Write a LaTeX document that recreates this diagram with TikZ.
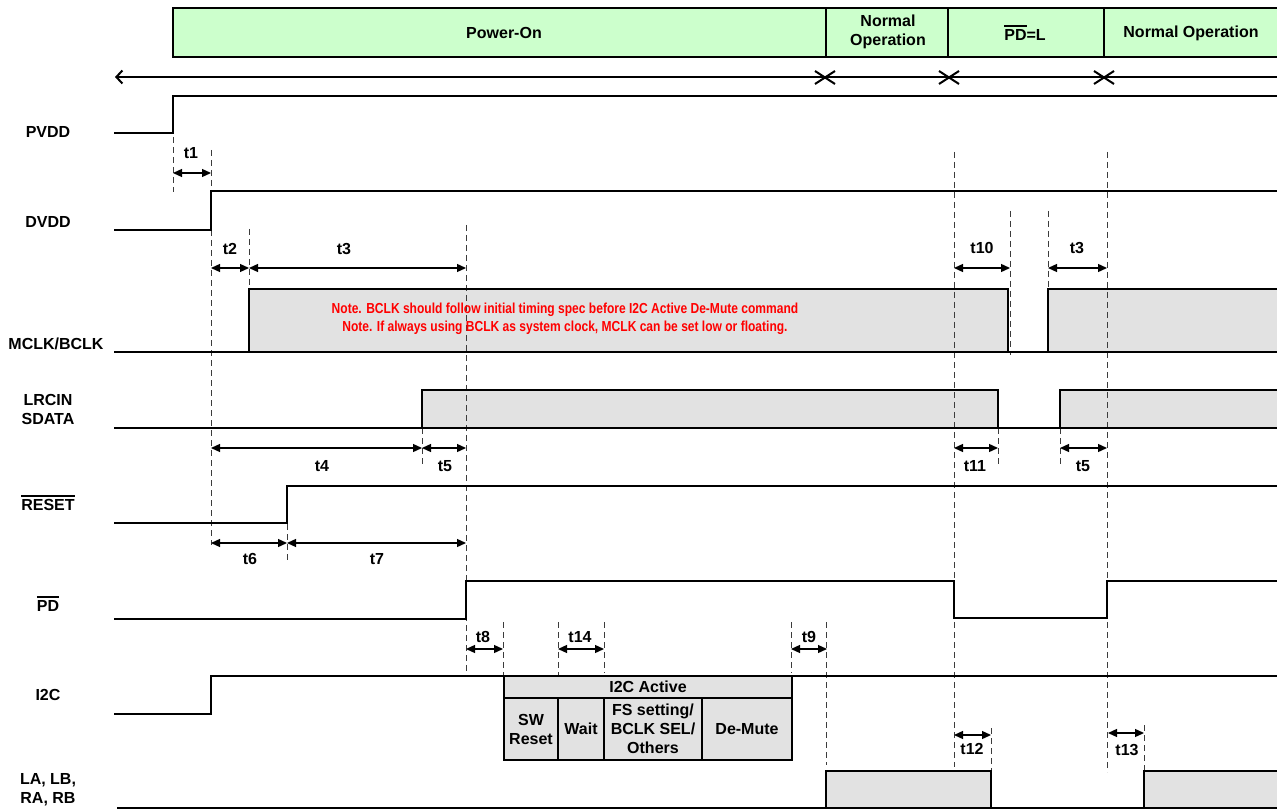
\documentclass[tikz,border=0pt]{standalone}
\usepackage{fontspec}
\setmainfont{Liberation Sans}
\usetikzlibrary{arrows.meta}
\definecolor{barg}{RGB}{204,255,204}
\definecolor{blkg}{RGB}{226,226,226}
\definecolor{guideg}{RGB}{60,60,60}
\newcommand\ovl[1]{\setbox0=\hbox{#1}\leavevmode\rlap{\rule[\dimexpr\ht0+3pt\relax]{\wd0}{1.5pt}}\box0}
\tikzset{
  sig/.style={line width=2.4pt, line join=miter, line cap=rect},
  guide/.style={dash pattern=on 6pt off 4pt, line width=1pt, guideg},
  dim/.style={{Triangle[length=9pt,width=8pt]}-{Triangle[length=9pt,width=8pt]}, line width=1.3pt},
  lbl/.style={font=\bfseries\fontsize{16}{19}\selectfont, align=center, inner sep=0pt},
  tl/.style={font=\bfseries\fontsize{16}{19}\selectfont, inner sep=0pt},
  bar/.style={font=\bfseries\fontsize{16}{19}\selectfont, align=center, inner sep=0pt},
  blk/.style={fill=blkg, draw=none},
  note/.style={font=\bfseries\fontsize{14.5}{16}\selectfont, text=red, inner sep=0pt},
  xm/.style={line width=2pt}
}
\begin{document}
\begin{tikzpicture}[x=1pt,y=-1pt]
\useasboundingbox (0,0) rectangle (1277,810);

% ---------- top phase bar ----------
\draw[line width=2.4pt, fill=barg] (173,8) rectangle (1290,57);
\foreach \xx in {826,948,1104} \draw[line width=2.4pt] (\xx,8) -- (\xx,57);
\node[bar] (pon) at (504,33) {Power-On};
\node[bar] (nop1) at (888,32) {Normal\\Operation};
\node[bar] (pdl) at (1025,33) {\ovl{PD}=L};
\node[bar] (nop2) at (1191,33) {Normal Operation};

% ---------- phase arrow line ----------
\coordinate (aL) at (115,77);
\coordinate (aR) at (1290,77);
\draw[line width=2pt, {Straight Barb[length=6pt,width=13pt,line width=2pt]}-] (aL) -- (aR);
\foreach \xx in {825,949,1104} {
  \draw[xm] (\xx-10,71) -- (\xx+10,84);
  \draw[xm] (\xx-10,84) -- (\xx+10,71);
}

% ---------- signal labels ----------
\node[lbl] (lpvdd) at (48,132) {PVDD};
\node[lbl] (ldvdd) at (48,222) {DVDD};
\node[lbl] (lmclk) at (56,344) {MCLK/BCLK};
\node[lbl] (llrc) at (48,409) {LRCIN\\SDATA};
\node[lbl] (lrst) at (48,503) {\ovl{RESET}};
\node[lbl] (lpd) at (48,604) {\ovl{PD}};
\node[lbl] (li2c) at (48,695) {I2C};
\node[lbl] (lla) at (48,790) {LA, LB,\\RA, RB};

% ---------- grey data fills ----------
\fill[blk] (249,289) rectangle (1008,352);
\fill[blk] (1048,289) rectangle (1290,352);
\fill[blk] (422,390) rectangle (998,428);
\fill[blk] (1060,390) rectangle (1290,428);
\fill[blk] (826,771) rectangle (991,808);
\fill[blk] (1144,771) rectangle (1290,808);

% ---------- guide lines ----------
\draw[guide] (173,137) -- (173,192);
\draw[guide] (211,150) -- (211,545);
\draw[guide] (249,229) -- (249,289);
\draw[guide] (466,225) -- (466,673);
\draw[guide] (954,152) -- (954,767);
\draw[guide] (1107,152) -- (1107,772);
\draw[guide] (1010,211) -- (1010,355);
\draw[guide] (1048,211) -- (1048,289);
\draw[guide] (422,428) -- (422,467);
\draw[guide] (998,428) -- (998,467);
\draw[guide] (1060,428) -- (1060,467);
\draw[guide] (287,524) -- (287,560);
\draw[guide] (503,622) -- (503,676);
\draw[guide] (558,622) -- (558,698);
\draw[guide] (604,622) -- (604,673);
\draw[guide] (791,622) -- (791,673);
\draw[guide] (826,622) -- (826,765);
\draw[guide] (991,728) -- (991,771);
\draw[guide] (1144,725) -- (1144,771);

% ---------- signals ----------
\draw[sig] (115,133) -- (173,133) -- (173,96) -- (1290,96);
\draw[sig] (115,230) -- (211,230) -- (211,191) -- (1290,191);
\draw[sig] (115,352) -- (1290,352);
\draw[sig] (249,352) -- (249,289) -- (1008,289) -- (1008,352);
\draw[sig] (1048,352) -- (1048,289) -- (1290,289);
\draw[sig] (115,428) -- (1290,428);
\draw[sig] (422,428) -- (422,390) -- (998,390) -- (998,428);
\draw[sig] (1060,428) -- (1060,390) -- (1290,390);
\draw[sig] (115,523) -- (287,523) -- (287,486) -- (1290,486);
\draw[sig] (115,619) -- (466,619) -- (466,581) -- (954,581) -- (954,618) -- (1107,618) -- (1107,581) -- (1290,581);
\draw[sig] (115,714) -- (211,714) -- (211,676) -- (1290,676);
\draw[sig] (118,808) -- (1290,808);
\draw[sig] (826,808) -- (826,771) -- (991,771) -- (991,808);
\draw[sig] (1144,808) -- (1144,771) -- (1290,771);

% ---------- note ----------
\node[note] (n1) at (565,310) {\scalebox{0.83}[1]{Note. BCLK should follow initial timing spec before I2C Active De-Mute command}};
\node[note] (n2) at (565,328) {\scalebox{0.83}[1]{Note. If always using BCLK as system clock, MCLK can be set low or floating.}};

% ---------- I2C command box ----------
\draw[line width=2.4pt, fill=blkg] (504,676) rectangle (792,760);
\draw[line width=2.4pt] (504,698) -- (792,698);
\foreach \xx in {558,604,702} \draw[line width=2.4pt] (\xx,698) -- (\xx,760);
\node[lbl] (act) at (648,687) {I2C Active};
\node[lbl] (swr) at (531,729) {SW\\Reset};
\node[lbl] (wai) at (581,729) {Wait};
\node[lbl] (fss) at (653,729) {FS setting/\\BCLK SEL/\\Others};
\node[lbl] (dem) at (747,729) {De-Mute};

% ---------- timing dimensions ----------
\draw[dim] (173,173) -- (211,173);   \node[tl] (t1) at (191,153) {t1};
\draw[dim] (211,268) -- (249,268);   \node[tl] (t2) at (230,249) {t2};
\draw[dim] (249,268) -- (466,268);   \node[tl] (t3) at (344,249) {t3};
\draw[dim] (954,268) -- (1010,268);  \node[tl] (t10) at (982,248) {t10};
\draw[dim] (1048,268) -- (1107,268); \node[tl] (t3b) at (1077,248) {t3};
\draw[dim] (211,448) -- (422,448);   \node[tl] (t4) at (322,466) {t4};
\draw[dim] (422,448) -- (466,448);   \node[tl] (t5) at (445,466) {t5};
\draw[dim] (954,448) -- (998,448);   \node[tl] (t11) at (975,466) {t11};
\draw[dim] (1060,448) -- (1107,448); \node[tl] (t5b) at (1083,466) {t5};
\draw[dim] (211,543) -- (287,543);   \node[tl] (t6) at (250,559) {t6};
\draw[dim] (287,543) -- (466,543);   \node[tl] (t7) at (377,559) {t7};
\draw[dim] (466,649) -- (503,649);   \node[tl] (t8) at (483,637) {t8};
\draw[dim] (558,649) -- (604,649);   \node[tl] (t14) at (580,637) {t14};
\draw[dim] (791,649) -- (827,649);   \node[tl] (t9) at (809,637) {t9};
\draw[dim] (954,735) -- (991,735);   \node[tl] (t12) at (972,749) {t12};
\draw[dim] (1108,733) -- (1144,733); \node[tl] (t13) at (1127,750) {t13};
\end{tikzpicture}
\end{document}
